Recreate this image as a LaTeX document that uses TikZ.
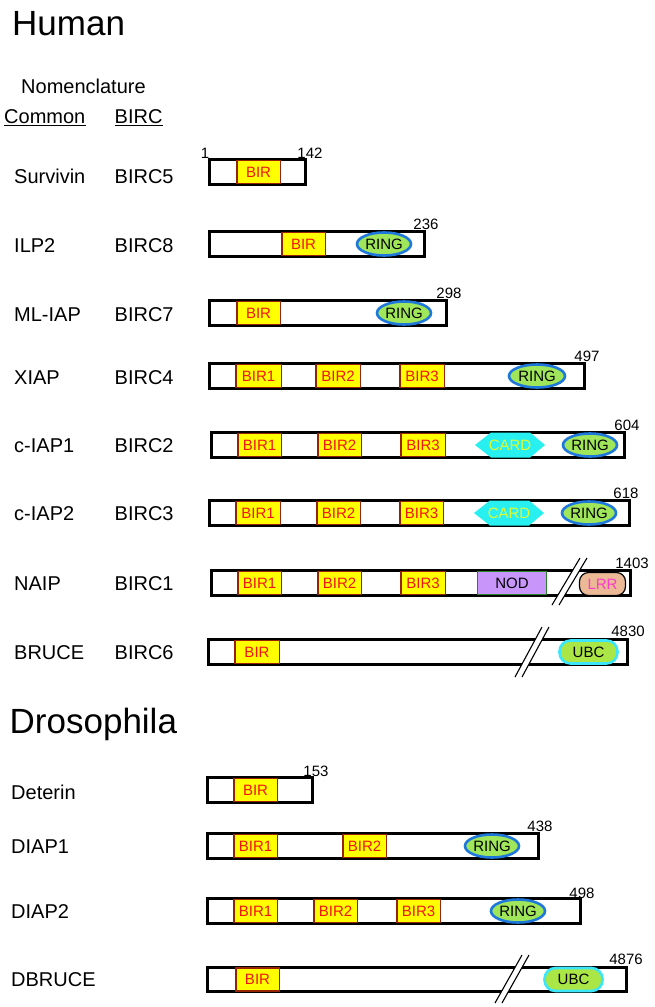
\documentclass[tikz,border=0pt]{standalone}
\usepackage{fontspec}
\setmainfont{Liberation Sans}
\usetikzlibrary{shapes.geometric}
\newcommand\fsz[1]{\fontsize{#1}{#1}\selectfont}
\definecolor{birfill}{RGB}{255,255,0}
\definecolor{birdraw}{RGB}{150,35,5}
\definecolor{birtext}{RGB}{240,20,20}
\definecolor{ringfill}{RGB}{160,230,90}
\definecolor{ringdraw}{RGB}{30,120,220}
\definecolor{cardfill}{RGB}{40,240,240}
\definecolor{cardtext}{RGB}{225,255,50}
\definecolor{nodfill}{RGB}{200,150,250}
\definecolor{noddraw}{RGB}{40,130,40}
\definecolor{lrrfill}{RGB}{235,185,150}
\definecolor{lrrtext}{RGB}{250,60,200}
\definecolor{ubcfill}{RGB}{170,230,70}
\definecolor{ubcdraw}{RGB}{60,230,250}
\tikzset{
  protein/.style={draw=black, line width=2.8pt, fill=white, minimum height=24.5pt, inner sep=0pt, outer sep=0pt},
  birbox/.style={draw=birdraw, line width=1.5pt, fill=birfill, text=birtext, font=\fsz{15}, minimum height=23pt, inner sep=0pt},
  ringnode/.style={ellipse, draw=ringdraw, line width=2.6pt, fill=ringfill, text=black, font=\fsz{15}, minimum width=54pt, minimum height=23pt, inner sep=0pt},
  cardlab/.style={text=cardtext, font=\fsz{15}, inner sep=0pt},
  nodbox/.style={draw=noddraw, line width=1.3pt, fill=nodfill, text=black, font=\fsz{15}, minimum height=23pt, inner sep=0pt},
  lrrbox/.style={draw=black, line width=1.2pt, fill=lrrfill, text=lrrtext, font=\fsz{15}, rounded corners=9pt, minimum height=23pt, inner sep=0pt},
  ubcbox/.style={draw=ubcdraw, line width=2.6pt, fill=ubcfill, text=black, font=\fsz{15}, rounded corners=11pt, minimum height=23pt, inner sep=0pt},
  num/.style={font=\fsz{15}, inner sep=0pt},
  rowlab/.style={font=\fsz{20}, inner sep=0pt, anchor=base west},
  title/.style={font=\fsz{35}, inner sep=0pt, anchor=base west},
  brkline/.style={draw=black, line width=1.1pt},
}
\newcommand\pbox[4]{\pgfmathsetmacro\myw{#3-#2-2.6}\pgfmathsetmacro\myx{(#2+#3)/2}%
  \node[protein, minimum width=\myw pt] (#1) at (\myx,#4) {};}
\newcommand\bir[5]{\pgfmathsetmacro\myw{#3-#2-1.5}\pgfmathsetmacro\myx{(#2+#3)/2}%
  \node[birbox, minimum width=\myw pt] (#1) at (\myx,#4) {#5};}
\newcommand\cardhex[3]{% name, centre x, centre y
  \fill[cardfill] (#2-35,#3) -- (#2-19,#3-12.5) -- (#2+20,#3-12.5) -- (#2+35,#3) -- (#2+20,#3+12.5) -- (#2-19,#3+12.5) -- cycle;
  \node[cardlab] (#1) at (#2,#3) {CARD};}
\newcommand\brk[5]{% prefix, x bottom, y bottom, x top, y top
  \coordinate (#1a) at (#2,#3); \coordinate (#1b) at (#4,#5);
  \coordinate (#1c) at (#2+7,#3); \coordinate (#1d) at (#4+7,#5);
  \fill[white] (#1a) -- (#1b) -- (#1d) -- (#1c) -- cycle;
  \draw[brkline] (#1a) -- (#1b); \draw[brkline] (#1c) -- (#1d);}
\begin{document}
\begin{tikzpicture}[x=1pt,y=-1pt]
\fill[white] (0,0) rectangle (654,1007);
\path[use as bounding box] (0,0) rectangle (654,1007);
% titles and headers
\node[title] (human) at (12,35) {Human};
\node[rowlab] (nomen) at (21,93) {Nomenclature};
\node[rowlab] (hcommon) at (4,123) {Common};
\node[rowlab] (hbirc) at (114.5,123) {BIRC};
\draw[line width=0.9pt] ([yshift=-2pt]hcommon.base west) -- ([yshift=-2pt]hcommon.base east);
\draw[line width=0.9pt] ([yshift=-2pt]hbirc.base west) -- ([yshift=-2pt]hbirc.base east);
% row labels
\node[rowlab] (l1) at (14,183) {Survivin}; \node[rowlab] (b1) at (114.5,183) {BIRC5};
\node[rowlab] (l2) at (14,252) {ILP2};     \node[rowlab] (b2) at (114.5,252) {BIRC8};
\node[rowlab] (l3) at (14,321) {ML-IAP};   \node[rowlab] (b3) at (114.5,321) {BIRC7};
\node[rowlab] (l4) at (14,384) {XIAP};     \node[rowlab] (b4) at (114.5,384) {BIRC4};
\node[rowlab] (l5) at (14,452) {c-IAP1};   \node[rowlab] (b5) at (114.5,452) {BIRC2};
\node[rowlab] (l6) at (14,520) {c-IAP2};   \node[rowlab] (b6) at (114.5,520) {BIRC3};
\node[rowlab] (l7) at (14,590) {NAIP};     \node[rowlab] (b7) at (114.5,590) {BIRC1};
\node[rowlab] (l8) at (14,659) {BRUCE};    \node[rowlab] (b8) at (114.5,659) {BIRC6};
% Survivin
\pbox{p1}{208}{307}{172}
\bir{p1b}{236}{281}{172}{BIR}
\node[num] (p1s) at (205,153) {1};
\node[num] (p1e) at (310,153) {142};
% ILP2
\pbox{p2}{208}{426}{244}
\bir{p2b}{281}{326}{244}{BIR}
\node[ringnode] (p2r) at (384,244) {RING};
\node[num] (p2e) at (426,224) {236};
% ML-IAP
\pbox{p3}{208}{448}{313}
\bir{p3b}{236}{281}{313}{BIR}
\node[ringnode] (p3r) at (404,313) {RING};
\node[num] (p3e) at (449,293) {298};
% XIAP
\pbox{p4}{208}{586}{376}
\bir{p4b1}{235}{282}{376}{BIR1}
\bir{p4b2}{315}{361}{376}{BIR2}
\bir{p4b3}{399}{445}{376}{BIR3}
\node[ringnode, minimum width=56pt] (p4r) at (537,376) {RING};
\node[num] (p4e) at (587,356) {497};
% c-IAP1
\pbox{p5}{210}{626}{445}
\bir{p5b1}{237}{282}{445}{BIR1}
\bir{p5b2}{317}{362}{445}{BIR2}
\bir{p5b3}{400}{446}{445}{BIR3}
\cardhex{p5c}{510}{445}
\node[ringnode] (p5r) at (590,445) {RING};
\node[num] (p5e) at (627,425) {604};
% c-IAP2
\pbox{p6}{208}{631}{513}
\bir{p6b1}{235}{281}{513}{BIR1}
\bir{p6b2}{316}{361}{513}{BIR2}
\bir{p6b3}{399}{444}{513}{BIR3}
\cardhex{p6c}{509}{513}
\node[ringnode] (p6r) at (589,513) {RING};
\node[num] (p6e) at (626,493) {618};
% NAIP
\pbox{p7}{210}{632}{583}
\bir{p7b1}{237}{282}{583}{BIR1}
\bir{p7b2}{317}{362}{583}{BIR2}
\bir{p7b3}{400}{446}{583}{BIR3}
\node[nodbox, minimum width=69pt] (p7n) at (512,583) {NOD};
\brk{p7k}{552}{605}{580}{558}
\node[lrrbox, minimum width=46pt] (p7l) at (602.5,584) {LRR};
\node[num] (p7e) at (632,563) {1403};
% BRUCE
\pbox{p8}{207}{629}{652}
\bir{p8b}{234}{280}{652}{BIR}
\brk{p8k}{515}{677}{542}{627}
\node[ubcbox, minimum width=58pt] (p8u) at (588.5,652) {UBC};
\node[num] (p8e) at (628,631) {4830};
% Drosophila
\node[title] (dros) at (9.5,733) {Drosophila};
\node[rowlab] (d1) at (11,799) {Deterin};
\node[rowlab] (d2) at (11,853) {DIAP1};
\node[rowlab] (d3) at (11,918) {DIAP2};
\node[rowlab] (d4) at (11,986) {DBRUCE};
% Deterin
\pbox{q1}{206}{314}{790}
\bir{q1b}{233}{278}{790}{BIR}
\node[num] (q1e) at (316,771) {153};
% DIAP1
\pbox{q2}{206}{540}{846}
\bir{q2b1}{233}{278}{846}{BIR1}
\bir{q2b2}{342}{387}{846}{BIR2}
\node[ringnode] (q2r) at (492,846) {RING};
\node[num] (q2e) at (540,826) {438};
% DIAP2
\pbox{q3}{206}{582}{911}
\bir{q3b1}{233}{278}{911}{BIR1}
\bir{q3b2}{313}{358}{911}{BIR2}
\bir{q3b3}{396}{441}{911}{BIR3}
\node[ringnode] (q3r) at (518,911) {RING};
\node[num] (q3e) at (582,893) {498};
% DBRUCE
\pbox{q4}{206}{628}{979.5}
\bir{q4b}{235}{280}{979.5}{BIR}
\brk{q4k}{495}{1003}{522}{955}
\node[ubcbox, minimum width=58pt] (q4u) at (573.5,979.5) {UBC};
\node[num] (q4e) at (626,959) {4876};
\end{tikzpicture}
\end{document}
